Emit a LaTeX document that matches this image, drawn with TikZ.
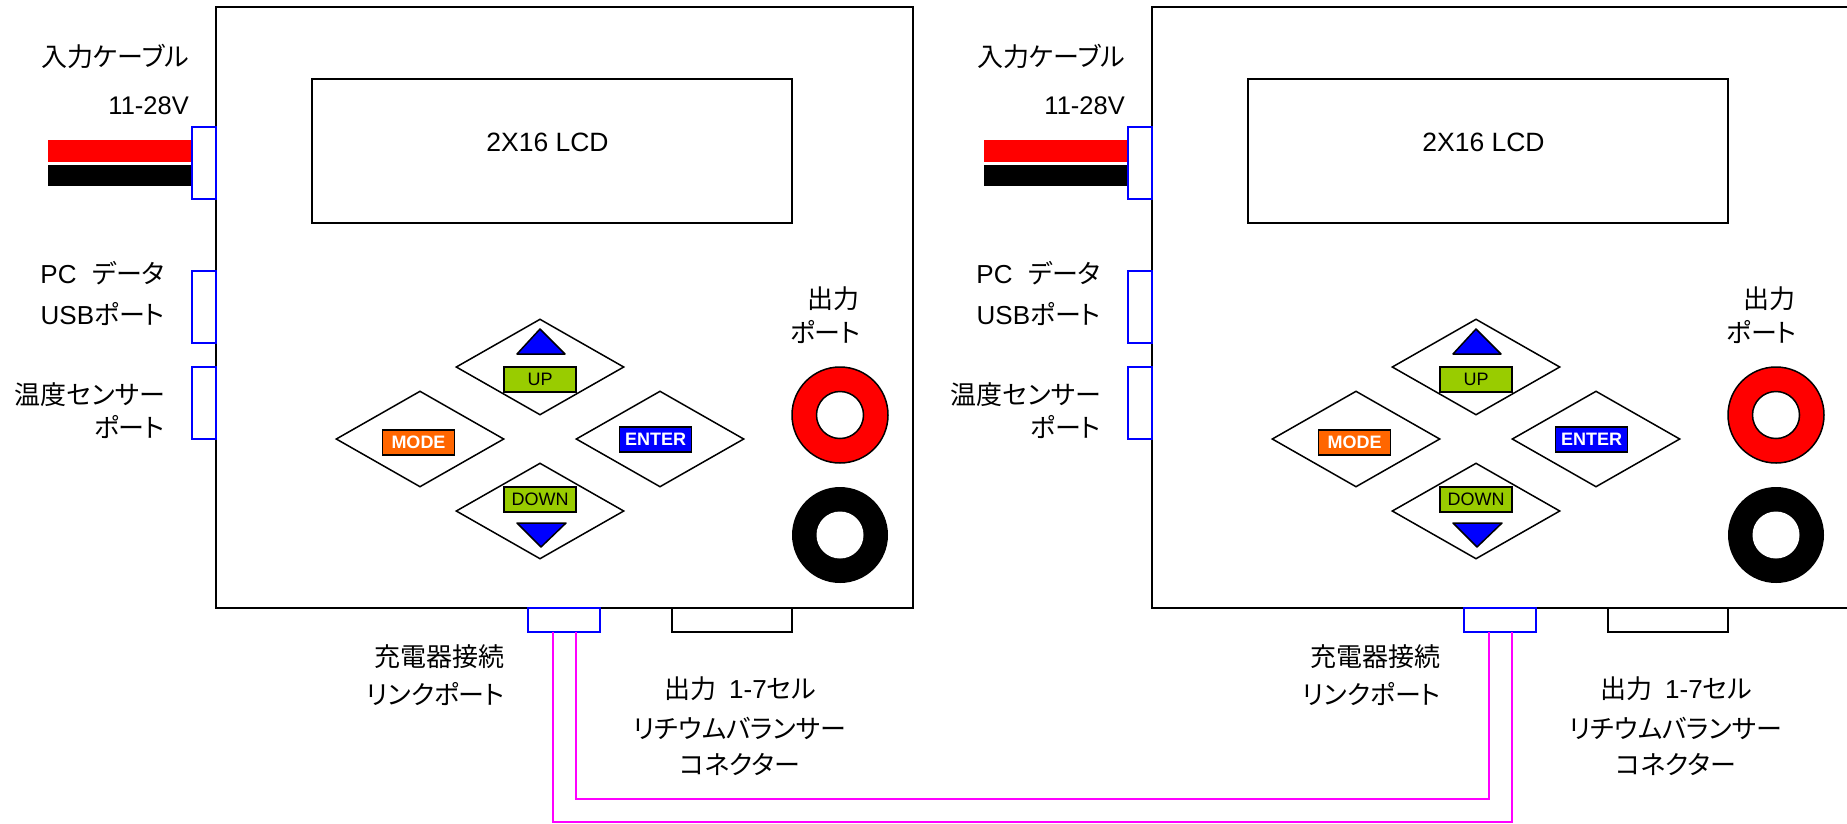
\documentclass[tikz,border=0pt]{standalone}
\usepackage{fontspec}
\usepackage{xcolor}
\setmainfont{Liberation Sans}
\newfontfamily\jpfont[RawFeature=+palt]{Noto Sans CJK JP}
\newcommand{\jp}[1]{{\jpfont #1}}
\definecolor{keygreen}{HTML}{99CC00}
\definecolor{keyorange}{HTML}{FF6600}
\definecolor{linkpink}{HTML}{FF00FF}
\usetikzlibrary{shapes.geometric,positioning}

\begin{document}
\begin{tikzpicture}[
        x=1pt, y=-1pt,
        case/.style={rectangle, draw, line width=2pt, minimum width=697pt, minimum height=601pt},
        lcd/.style={rectangle, draw, line width=2pt, minimum width=480pt, minimum height=144pt},
        port/.style={rectangle, draw=blue, line width=2pt, minimum width=24pt, minimum height=72pt},
        linkport/.style={rectangle, draw=blue, line width=2pt, minimum width=72pt, minimum height=24pt},
        balancer/.style={rectangle, draw, line width=2pt, minimum width=120pt, minimum height=24pt},
        wire/.style={rectangle, inner sep=0pt, minimum width=144pt},
        key/.style={diamond, draw, line width=1.5pt, inner sep=0pt, aspect=1.75, minimum width=168pt, minimum height=96pt},
        tag/.style={rectangle, draw, line width=1.5pt, inner sep=0pt, minimum width=72pt, minimum height=25pt, font=\fontsize{18}{20}\selectfont},
        boldtag/.style={tag, text=white, font=\fontsize{18}{20}\selectfont\bfseries},
        pointer/.style={draw, line width=1.5pt, fill=blue, line join=round},
        ring/.style={circle, inner sep=0pt, minimum size=96pt},
        hole/.style={circle, fill=white, inner sep=0pt, minimum size=47pt},
        lbl/.style={inner sep=0pt, text height=21pt, text depth=2pt, font=\fontsize{26}{30}\selectfont},
        linkwire/.style={draw=linkpink, line width=2pt}
    ]
        \useasboundingbox (0,0) rectangle (1847,823);

        \foreach \side/\dx in {a/0,b/936} {
        \begin{scope}[xshift=\dx pt]
            % Case and display
            \node[case] (case\side) at (564.5,307.5) {};
            \node[lcd] (lcd\side) at (552,151) {};
            \node[font=\fontsize{26.5}{30}\selectfont] (lcdtext\side) at (547.5,142) {2X16 LCD};

            % Input cable
            \node[wire, fill=red, minimum height=22pt] (redwire\side) at (120,151) {};
            \node[wire, fill=black, minimum height=21pt] (blackwire\side) at (120,175.5) {};
            \node[port] (input\side) at (204,163) {};
            \node[lbl, anchor=east] (inputa\side) at (189,57) {\jp{入力ケーブル}};
            \node[lbl, anchor=east, font=\fontsize{25.5}{30}\selectfont] (inputb\side) at (189,105) {11-28V};

            % PC and sensor ports
            \node[port] (usb\side) at (204,307) {};
            \node[port] (temp\side) at (204,403) {};
            \node[lbl, anchor=east] (usba\side) at (165,274) {PC\hspace{0.6em}\jp{データ}};
            \node[lbl, anchor=east] (usbb\side) at (165,315) {USB\jp{ポート}};
            \node[lbl, anchor=east] (tempa\side) at (165,395) {\jp{温度センサー}};
            \node[lbl, anchor=east] (tempb\side) at (165,428) {\jp{ポート}};

            % Keys
            \node[key] (up\side) at (540,367) {};
            \node[key] (mode\side) at (420,439) {};
            \node[key] (enter\side) at (660,439) {};
            \node[key] (down\side) at (540,511) {};
            \draw[pointer] (517,354) -- (540,329) -- (565,354) -- cycle;
            \draw[pointer] (517,523) -- (541,547) -- (566,523) -- cycle;
            \node[tag, fill=keygreen] (uptag\side) at (540,379.5) {UP};
            \node[tag, fill=keygreen] (downtag\side) at (540,499.5) {DOWN};
            \node[boldtag, fill=keyorange] (modetag\side) at (418.5,442.5) {MODE};
            \node[boldtag, fill=blue] (entertag\side) at (655.5,439.5) {ENTER};

            % Output
            \node[lbl, anchor=east] (outa\side) at (860,299) {\jp{出力}};
            \node[lbl, anchor=east] (outb\side) at (861,333) {\jp{ポート}};
            \node[ring, fill=red, draw, line width=1.5pt] (redring\side) at (840,415) {};
            \node[hole, draw, line width=1.5pt] (redhole\side) at (redring\side.center) {};
            \node[ring, fill=black] (blackring\side) at (840,535) {};
            \node[hole] (blackhole\side) at (blackring\side.center) {};

            % Bottom connectors
            \node[linkport] (link\side) at (564,619.5) {};
            \node[balancer] (bal\side) at (732,619.5) {};
            \coordinate (pinl\side) at (553,631.5);
            \coordinate (pinr\side) at (576,631.5);
            \node[lbl, anchor=east] (linka\side) at (505,657) {\jp{充電器接続}};
            \node[lbl, anchor=east] (linkb\side) at (505,695) {\jp{リンクポート}};
            \node[lbl] (bala\side) at (740,689) {\jp{出力}\hspace{0.5em}1-7\jp{セル}};
            \node[lbl] (balb\side) at (740,729) {\jp{リチウムバランサー}};
            \node[lbl] (balc\side) at (740,765) {\jp{コネクター}};
        \end{scope}
        }

        % Link cable
        \draw[linkwire] (pinra) -- ++(0,167.5) -| (pinlb);
        \draw[linkwire] (pinla) -- ++(0,190.5) -| (pinrb);
\end{tikzpicture}
\end{document}
